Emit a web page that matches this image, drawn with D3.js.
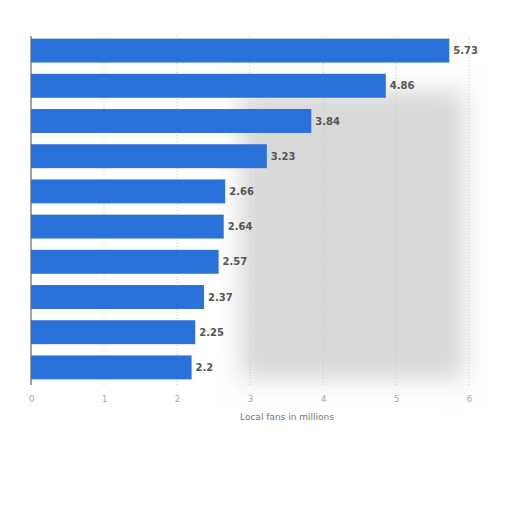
<!DOCTYPE html>
<html><head><meta charset="utf-8">
<script src="https://cdn.jsdelivr.net/npm/d3@7"></script>
<style>body{margin:0;background:#fff}</style>
</head><body>
<svg id="c" width="512" height="512"></svg>
<script>
const categories = ["A","B","C","D","E","F","G","H","I","J"];
const values = [5.73, 4.86, 3.84, 3.23, 2.66, 2.64, 2.57, 2.37, 2.25, 2.2];
const valueLabels = ["5.73","4.86","3.84","3.23","2.66","2.64","2.57","2.37","2.25","2.2"];
const xTicks = [0,1,2,3,4,5,6];
const xTitle = "Local fans in millions";

const svg = d3.select("#c");
const x = d3.scaleLinear().domain([0,6]).range([31,469]);
const y = d3.scaleBand().domain(categories).range([33,385]).paddingInner(0.32).paddingOuter(0.16);

const defs = svg.append("defs");
defs.append("filter").attr("id","blur").append("feGaussianBlur").attr("stdDeviation",12);
svg.append("rect").attr("x",240).attr("y",90).attr("width",225).attr("height",290)
  .attr("fill","#d9d9d9").attr("filter","url(#blur)");

svg.append("g").selectAll("line").data(xTicks.slice(1)).join("line")
  .attr("x1",d=>x(d)).attr("x2",d=>x(d)).attr("y1",36).attr("y2",385)
  .attr("stroke","#c8c8c8").attr("stroke-dasharray","1,2").attr("stroke-width",1);

svg.append("g").selectAll("rect").data(values).join("rect")
  .attr("x",x(0)).attr("y",(d,i)=>y(categories[i]))
  .attr("width",d=>x(d)-x(0)).attr("height",y.bandwidth())
  .attr("fill","#2a72d9");

svg.append("g").selectAll("text").data(values).join("text")
  .attr("x",d=>x(d)+4).attr("y",(d,i)=>y(categories[i])+y.bandwidth()/2)
  .attr("dy","0.35em").attr("font-family","DejaVu Sans, sans-serif")
  .attr("font-size",10).attr("font-weight","bold").attr("fill","#555")
  .text((d,i)=>valueLabels[i]);

svg.append("line").attr("x1",x(0)).attr("x2",x(0)).attr("y1",36).attr("y2",385)
  .attr("stroke","#666").attr("stroke-width",1.2);

const ax = d3.axisBottom(x).tickValues(xTicks).tickSize(0).tickPadding(0).tickFormat(d3.format("d"));
const g = svg.append("g").attr("transform","translate(0,399)").call(ax);
g.select(".domain").remove();
g.selectAll("text").attr("font-family","DejaVu Sans, sans-serif").attr("font-size",9)
  .attr("fill","#aaa").attr("dy","0.35em");

svg.append("text").attr("x",287).attr("y",417).attr("dy","0.35em").attr("text-anchor","middle")
  .attr("font-family","DejaVu Sans, sans-serif").attr("font-size",9).attr("fill","#777")
  .text(xTitle);
</script>
</body></html>
